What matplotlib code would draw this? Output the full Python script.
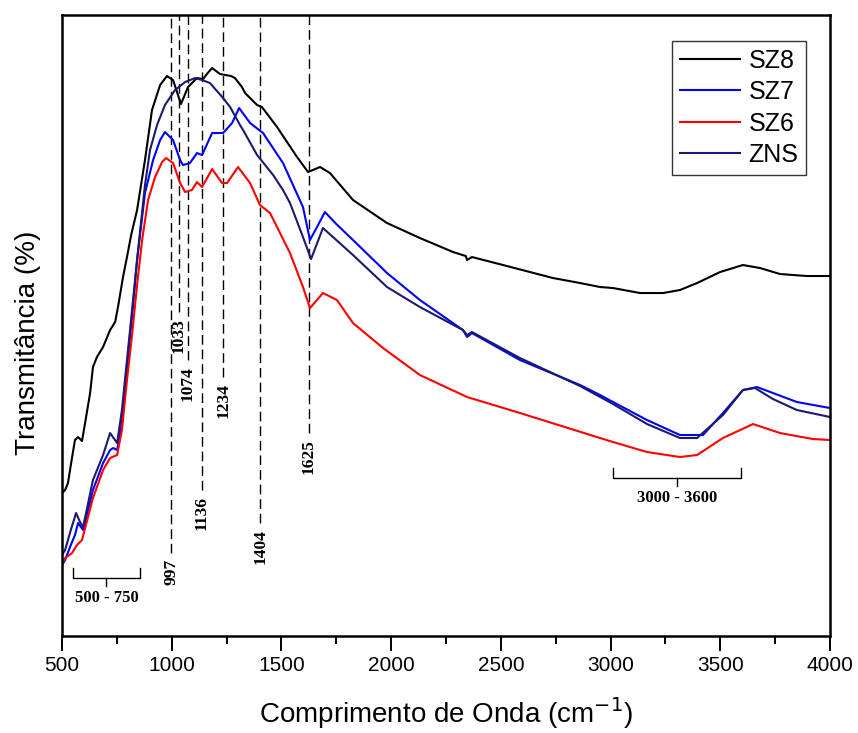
import numpy as np
import matplotlib
matplotlib.use("Agg")
import matplotlib.pyplot as plt

# wavenumber (cm-1) and transmittance (arbitrary units)
sz8_x = [500, 514, 527, 546, 559, 573, 591, 605, 628, 641, 659, 687, 719, 742, 755, 778, 796, 815,
         842, 878, 910, 947, 978, 1006, 1042, 1074, 1115, 1143, 1160, 1184, 1220, 1270, 1288, 1320,
         1334, 1389, 1411, 1480, 1571, 1621, 1676, 1721, 1826, 1981, 2131, 2282, 2340, 2346, 2368,
         2510, 2737, 2861, 2952, 3011, 3134, 3239, 3316, 3394, 3499, 3603, 3681, 3772, 3895, 4000]
sz8_y = [14.3, 14.6, 15.3, 17.9, 19.6, 19.9, 19.5, 21.3, 24.3, 26.9, 27.9, 28.9, 30.6, 31.4, 32.9,
         35.9, 37.9, 40.1, 42.6, 47.6, 52.6, 55.1, 56.0, 55.6, 53.2, 54.9, 55.8, 55.7, 56.2, 56.8,
         56.2, 56.0, 55.8, 54.9, 54.3, 53.1, 52.9, 50.9, 47.9, 46.4, 46.9, 46.3, 43.6, 41.3, 39.8,
         38.4, 38.0, 37.6, 37.9, 37.1, 35.8, 35.3, 34.9, 34.8, 34.3, 34.3, 34.6, 35.3, 36.4, 37.1,
         36.8, 36.2, 36.0, 36.0]

sz7_x = [500, 514, 540, 559, 573, 596, 641, 687, 719, 733, 751, 773, 796, 819, 842, 878, 915, 947,
         969, 1006, 1038, 1051, 1083, 1115, 1138, 1184, 1234, 1275, 1307, 1357, 1416, 1507, 1598,
         1630, 1662, 1698, 1750, 1826, 1981, 2131, 2327, 2346, 2368, 2587, 2861, 2952, 3011, 3166,
         3316, 3421, 3512, 3603, 3667, 3740, 3849, 4000]
sz7_y = [7.1, 7.6, 9.1, 10.1, 11.3, 10.6, 14.6, 17.3, 18.6, 18.8, 18.6, 21.3, 26.9, 31.9, 37.6,
         44.3, 47.6, 49.6, 50.4, 49.6, 47.6, 47.1, 47.3, 48.3, 48.1, 50.3, 50.3, 51.3, 52.8, 51.3,
         50.3, 47.3, 42.9, 39.6, 40.9, 42.4, 41.2, 39.6, 36.3, 33.6, 30.6, 29.9, 30.3, 27.6, 25.1,
         24.1, 23.4, 21.6, 20.1, 20.1, 22.3, 24.6, 24.9, 24.3, 23.4, 22.8]

sz6_x = [500, 514, 546, 568, 591, 641, 687, 719, 751, 773, 796, 819, 842, 865, 892, 924, 956, 974,
         1006, 1038, 1061, 1092, 1115, 1138, 1184, 1229, 1252, 1302, 1357, 1402, 1448, 1539, 1598,
         1630, 1689, 1753, 1826, 1963, 2131, 2346, 2587, 2952, 3011, 3166, 3316, 3394, 3512, 3649,
         3772, 3922, 4000]
sz6_y = [7.3, 7.8, 8.3, 9.1, 9.6, 13.8, 16.6, 17.8, 18.1, 20.6, 25.6, 30.1, 35.1, 39.6, 43.6, 45.9,
         47.4, 47.8, 47.3, 45.3, 44.4, 44.6, 45.4, 44.9, 46.7, 45.3, 45.3, 46.9, 45.3, 43.1, 42.3,
         38.3, 34.9, 32.8, 34.3, 33.6, 31.3, 28.8, 26.1, 23.9, 22.3, 19.8, 19.4, 18.4, 17.9, 18.1,
         19.8, 21.2, 20.3, 19.7, 19.6]

zns_x = [500, 514, 540, 564, 582, 596, 641, 687, 719, 751, 773, 796, 819, 842, 878, 901, 933, 969,
         1015, 1061, 1106, 1138, 1174, 1234, 1266, 1311, 1325, 1389, 1462, 1507, 1539, 1598, 1635,
         1689, 1750, 1826, 1981, 2131, 2327, 2346, 2368, 2587, 2861, 3011, 3166, 3316, 3394, 3512,
         3603, 3658, 3740, 3849, 4000]
zns_y = [8.1, 8.6, 10.6, 12.3, 11.4, 10.9, 15.6, 18.1, 20.3, 19.3, 22.6, 27.6, 32.6, 37.6, 45.1,
         48.6, 51.1, 53.1, 54.6, 55.4, 55.8, 55.6, 55.3, 53.8, 52.9, 51.1, 50.6, 48.1, 46.1, 44.6,
         43.3, 39.9, 37.7, 40.8, 39.6, 38.1, 34.9, 32.9, 30.6, 30.1, 30.4, 27.8, 25.0, 23.2, 21.2,
         19.8, 19.8, 22.1, 24.6, 24.8, 23.7, 22.6, 21.9]

# marked bands: position, where the dashed line stops
band_pos = [997, 1033, 1074, 1136, 1234, 1404, 1625]
band_end = [8.3, 32.4, 27.6, 14.6, 25.9, 11.3, 20.3]

# bracketed regions: (start, end, label, level)
regions = [(550, 855, "500 - 750", 5.8), (3011, 3594, "3000 - 3600", 15.8)]

sans = ["Liberation Sans", "DejaVu Sans"]
serif = ["Liberation Serif", "DejaVu Serif"]

fig = plt.figure(figsize=(8.58, 7.33), dpi=100)
ax = fig.add_axes([0.0723, 0.1323, 0.8951, 0.8472])

ax.plot(sz8_x, sz8_y, color="black", lw=1.5, label="SZ8")
ax.plot(sz7_x, sz7_y, color="#0000ff", lw=1.5, label="SZ7")
ax.plot(sz6_x, sz6_y, color="#ff0000", lw=1.5, label="SZ6")
ax.plot(zns_x, zns_y, color="#1a1a6e", lw=1.5, label="ZNS")

for pos, end in zip(band_pos, band_end):
    ax.plot([pos, pos], [end, 62.1], color="black", lw=1.0, dashes=(7, 3.5), zorder=1)
    ax.text(pos, end - 0.6, str(pos), rotation=90, ha="center", va="top",
            family=serif, fontweight="bold", fontsize=12.5)

for start, stop, label, level in regions:
    mid = (start + stop) / 2
    ax.plot([start, start, stop, stop], [level + 1.0, level, level, level + 1.0],
            color="black", lw=1.0)
    ax.plot([mid, mid], [level, level - 0.8], color="black", lw=1.0)
    ax.text(mid, level - 2.0, label, ha="center", va="center",
            family=serif, fontweight="bold", fontsize=12)

ax.set_xlim(500, 4000)
ax.set_ylim(0, 62.1)
ax.set_xticks(np.arange(500, 4001, 500))
ax.set_xticks(np.arange(750, 4000, 500), minor=True)
ax.set_yticks([])
ax.tick_params(axis="x", which="major", length=11, width=1.4, direction="out")
ax.tick_params(axis="x", which="minor", length=6, width=1.4, direction="out")
for lab in ax.get_xticklabels():
    lab.set_family(sans)
    lab.set_fontsize(15)
for sp in ax.spines.values():
    sp.set_linewidth(1.8)

ax.set_xlabel("Comprimento de Onda (cm$^{-1}$)", family=sans, fontsize=20, labelpad=14)
ax.set_ylabel("Transmitância (%)", family=sans, fontsize=20)
ax.yaxis.set_label_coords(-0.027, 0.472)

leg = ax.legend(loc="upper right", bbox_to_anchor=(0.969, 0.958), borderaxespad=0,
                fancybox=False, edgecolor="#333333", framealpha=1, handlelength=2.4,
                handletextpad=0.35, labelspacing=0.3, borderpad=0.3,
                prop={"family": sans, "size": 18})
leg.get_frame().set_linewidth(1.0)

fig.savefig("out.png", dpi=100)
